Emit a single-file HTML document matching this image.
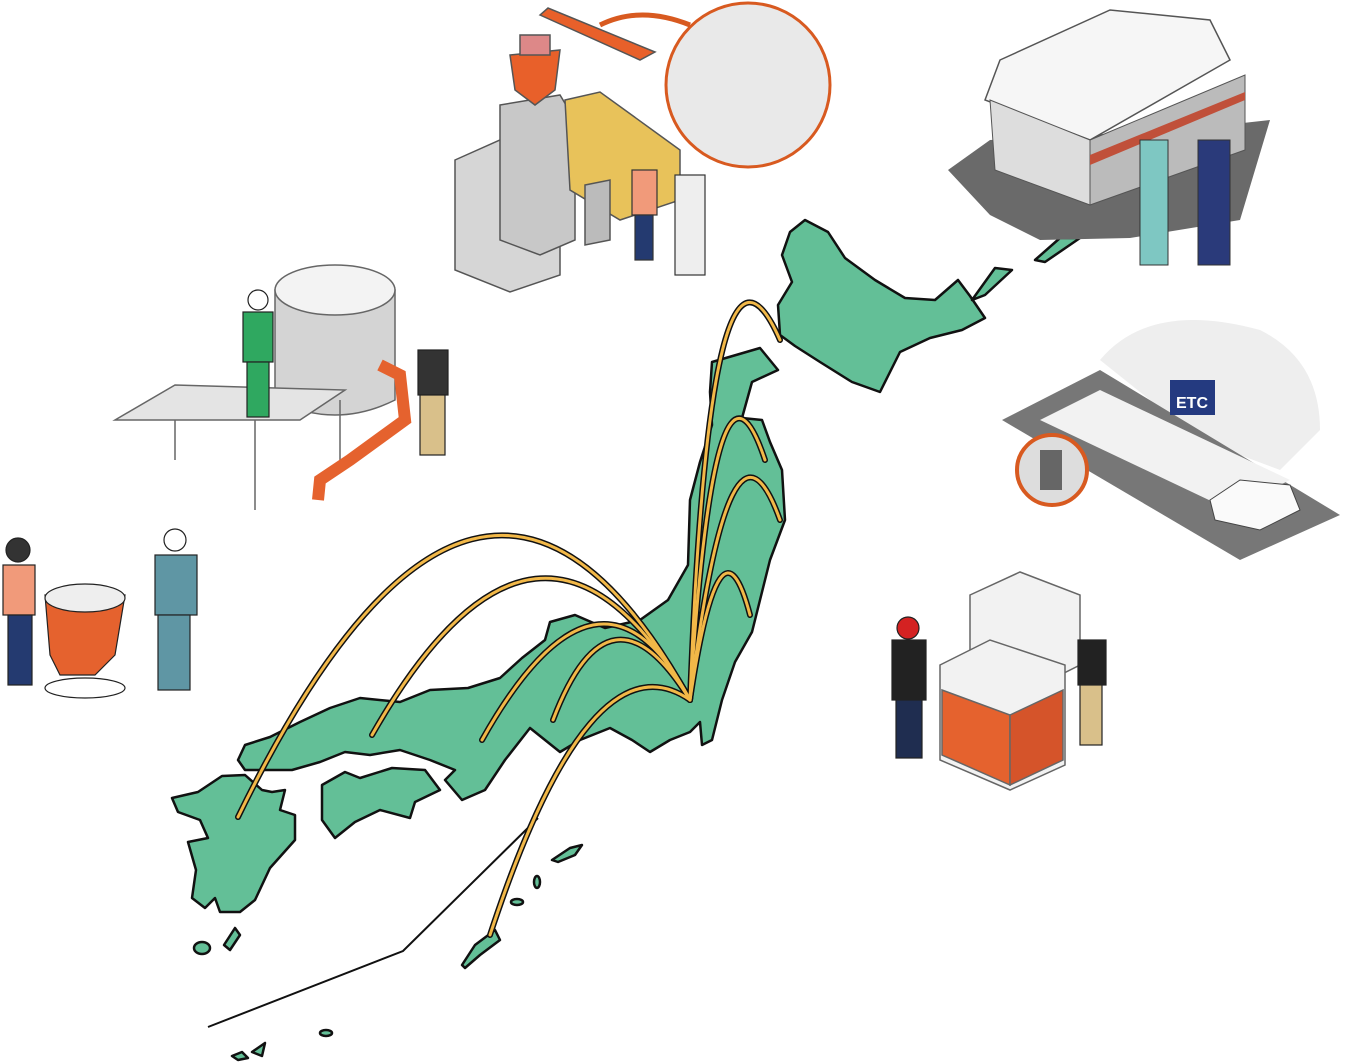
<!DOCTYPE html>
<html><head><meta charset="utf-8"><style>
html,body{margin:0;padding:0;background:#fff;}
svg{display:block;}
</style></head><body>
<svg width="1347" height="1062" viewBox="0 0 1347 1062" xmlns="http://www.w3.org/2000/svg">
<g fill="#63bf97" stroke="#111" stroke-width="2.5" stroke-linejoin="round">
<!-- Hokkaido -->
<path d="M790,232 L805,220 L828,232 L845,258 L875,280 L905,298 L935,300 L958,280 L970,296 L985,318 L962,330 L930,338 L900,352 L880,392 L852,382 L820,362 L795,346 L780,335 L778,305 L792,282 L782,255 Z"/>
<path d="M972,300 L995,268 L1012,270 L985,295 Z"/>
<path d="M1035,260 L1060,238 L1080,238 L1045,262 Z"/>
<!-- Honshu -->
<path d="M712,362 L760,348 L778,370 L752,382 L742,418 L762,420 L770,442 L782,470 L785,520 L770,560 L760,600 L752,632 L735,662 L722,700 L712,740 L702,745 L700,722 L690,732 L670,740 L650,752 L632,740 L610,728 L580,740 L560,752 L545,740 L530,728 L505,760 L485,790 L462,800 L445,780 L455,770 L430,760 L400,750 L370,755 L345,752 L320,762 L292,770 L270,770 L245,770 L238,760 L245,745 L270,737 L300,722 L330,708 L360,698 L400,702 L430,690 L468,688 L500,678 L522,658 L545,640 L550,622 L575,615 L605,628 L640,620 L668,600 L688,565 L690,500 L700,462 L712,425 L710,392 Z"/>
<!-- Shikoku -->
<path d="M322,785 L345,772 L360,778 L392,768 L425,770 L440,790 L415,802 L410,818 L380,810 L355,822 L335,838 L322,820 Z"/>
<!-- Kyushu -->
<path d="M172,798 L198,792 L222,776 L245,775 L262,790 L272,792 L285,790 L280,810 L295,815 L295,840 L270,868 L255,900 L240,912 L220,912 L215,898 L205,908 L192,898 L196,870 L188,842 L208,838 L200,820 L178,812 Z"/>
<ellipse cx="202" cy="948" rx="8" ry="6"/>
<path d="M224,945 L235,928 L240,935 L230,950 Z"/>
<path d="M462,965 L475,945 L495,930 L500,940 L480,955 L465,968 Z"/>
<path d="M552,860 L570,848 L582,845 L575,855 L558,862 Z"/>
<ellipse cx="537" cy="882" rx="3" ry="6"/>
<ellipse cx="517" cy="902" rx="6" ry="3"/>
<ellipse cx="326" cy="1033" rx="6" ry="3"/>
<path d="M232,1056 L242,1052 L248,1058 L238,1060 Z"/>
<path d="M252,1052 L265,1043 L262,1056 Z"/>
</g>
<polyline points="208,1027 403,951 538,818" fill="none" stroke="#111" stroke-width="2"/>
<!-- arcs -->
<g fill="none" stroke-linecap="round">
<g stroke="#111" stroke-width="6">
<path d="M690,700 Q 480,320 238,817"/>
<path d="M690,700 Q 540,440 372,735"/>
<path d="M690,700 Q 600,530 482,740"/>
<path d="M690,700 Q 610,570 553,720"/>
<path d="M690,700 Q 590,630 490,935"/>
<path d="M690,700 Q 710,180 780,340"/>
<path d="M690,700 Q 715,310 765,460"/>
<path d="M690,700 Q 730,380 780,520"/>
<path d="M690,700 Q 720,500 750,615"/>
</g>
<g stroke="#f2b848" stroke-width="3">
<path d="M690,700 Q 480,320 238,817"/>
<path d="M690,700 Q 540,440 372,735"/>
<path d="M690,700 Q 600,530 482,740"/>
<path d="M690,700 Q 610,570 553,720"/>
<path d="M690,700 Q 590,630 490,935"/>
<path d="M690,700 Q 710,180 780,340"/>
<path d="M690,700 Q 715,310 765,460"/>
<path d="M690,700 Q 730,380 780,520"/>
<path d="M690,700 Q 720,500 750,615"/>
</g>
</g>
<!-- top center machine -->
<g stroke="#555" stroke-width="1.5">
<path d="M455,160 L500,140 L560,165 L560,275 L510,292 L455,270 Z" fill="#d6d6d6"/>
<path d="M500,105 L560,95 L575,120 L575,240 L540,255 L500,240 Z" fill="#c8c8c8"/>
<path d="M510,55 L560,50 L555,90 L535,105 L515,90 Z" fill="#e8602a"/>
<rect x="520" y="35" width="30" height="20" fill="#d88"/>
<path d="M565,100 L600,92 L680,150 L680,200 L620,220 L570,190 Z" fill="#e8c25a"/>
<path d="M585,185 L610,180 L610,240 L585,245 Z" fill="#bbb"/>
<path d="M540,15 L640,60 L655,52 L548,8 Z" fill="#e8602a"/>
</g>
<circle cx="748" cy="85" r="82" fill="#e9e9e9" stroke="#d85a20" stroke-width="3"/>
<path d="M600,25 Q640,5 690,25" fill="none" stroke="#d85a20" stroke-width="5"/>
<!-- people top center -->
<g stroke="#333" stroke-width="1.2">
<rect x="632" y="170" width="25" height="45" fill="#f19a7a"/>
<rect x="635" y="215" width="18" height="45" fill="#243a70"/>
<rect x="675" y="175" width="30" height="100" fill="#eee"/>
</g>
<!-- top right building -->
<path d="M948,170 L990,140 L1180,130 L1270,120 L1240,220 L1130,238 L1040,240 L990,215 Z" fill="#6a6a6a"/>
<path d="M985,100 L1000,60 L1110,10 L1210,20 L1230,60 L1090,140 Z" fill="#f6f6f6" stroke="#555" stroke-width="1.5"/>
<path d="M990,100 L1090,140 L1090,205 L995,170 Z" fill="#ddd" stroke="#555"/>
<path d="M1090,140 L1245,75 L1245,150 L1090,205 Z" fill="#bbb" stroke="#555"/>
<path d="M1090,155 L1245,92 L1245,100 L1090,165 Z" fill="#c0503a"/>
<rect x="1140" y="140" width="28" height="125" fill="#7ec7c2" stroke="#333"/>
<rect x="1198" y="140" width="32" height="125" fill="#2a3a7a" stroke="#333"/>
<!-- ETC scene -->
<path d="M1100,360 Q1150,300 1260,330 Q1320,360 1320,430 L1280,470 L1200,440 Z" fill="#eee"/>
<path d="M1002,420 L1100,370 L1340,515 L1240,560 Z" fill="#777"/>
<path d="M1040,420 L1100,390 L1290,480 L1230,510 Z" fill="#f2f2f2"/>
<rect x="1170" y="380" width="45" height="35" fill="#243a80"/>
<text x="1176" y="408" font-family="Liberation Sans, sans-serif" font-weight="bold" font-size="16" fill="#fff">ETC</text>
<circle cx="1052" cy="470" r="35" fill="#ddd" stroke="#d85a20" stroke-width="4"/>
<rect x="1040" y="450" width="22" height="40" fill="#666"/>
<path d="M1210,500 L1240,480 L1290,485 L1300,510 L1260,530 L1215,520 Z" fill="#fafafa" stroke="#444"/>
<!-- IBC tanks -->
<g stroke="#666" stroke-width="1.5">
<path d="M970,595 L1020,572 L1080,595 L1080,665 L1030,690 L970,665 Z" fill="#f2f2f2"/>
<path d="M940,665 L990,640 L1065,665 L1065,765 L1010,790 L940,760 Z" fill="#f2f2f2"/>
<path d="M942,690 L1010,715 L1010,785 L942,755 Z" fill="#e5622e"/>
<path d="M1010,715 L1063,690 L1063,760 L1010,785 Z" fill="#d5542a"/>
</g>
<g stroke="#222" stroke-width="1.2">
<circle cx="908" cy="628" r="11" fill="#d42222"/>
<rect x="892" y="640" width="34" height="60" fill="#222"/>
<rect x="896" y="700" width="26" height="58" fill="#1f2d50"/>
<rect x="1078" y="640" width="28" height="45" fill="#222"/>
<rect x="1080" y="685" width="22" height="60" fill="#d9c08a"/>
</g>
<!-- tank -->
<g stroke="#666" stroke-width="1.5">
<path d="M275,290 L275,400 Q335,430 395,400 L395,290 Z" fill="#d4d4d4"/>
<ellipse cx="335" cy="290" rx="60" ry="25" fill="#f3f3f3"/>
<path d="M115,420 L175,385 L345,390 L300,420 Z" fill="#e4e4e4"/>
<line x1="175" y1="420" x2="175" y2="460"/>
<line x1="255" y1="420" x2="255" y2="510"/>
<line x1="340" y1="400" x2="340" y2="470"/>
</g>
<path d="M380,365 L400,375 L405,420 L350,460 L320,480 L318,500" fill="none" stroke="#e5622e" stroke-width="12"/>
<g stroke="#222" stroke-width="1.2">
<circle cx="258" cy="300" r="10" fill="#fff"/>
<rect x="243" y="312" width="30" height="50" fill="#2fa860"/>
<rect x="247" y="362" width="22" height="55" fill="#2fa860"/>
<rect x="418" y="350" width="30" height="45" fill="#333"/>
<rect x="420" y="395" width="25" height="60" fill="#d9c08a"/>
</g>
<!-- left people -->
<g stroke="#222" stroke-width="1.2">
<circle cx="18" cy="550" r="12" fill="#333"/>
<rect x="3" y="565" width="32" height="50" fill="#f19a7a"/>
<rect x="8" y="615" width="24" height="70" fill="#243a70"/>
<path d="M45,595 L125,595 L115,655 L95,675 L60,675 L50,655 Z" fill="#e5622e"/>
<ellipse cx="85" cy="598" rx="40" ry="14" fill="#eee"/>
<ellipse cx="85" cy="688" rx="40" ry="10" fill="none"/>
<circle cx="175" cy="540" r="11" fill="#fff"/>
<rect x="155" y="555" width="42" height="60" fill="#5f96a4"/>
<rect x="158" y="615" width="32" height="75" fill="#5f96a4"/>
</g>
</svg>
</body></html>
